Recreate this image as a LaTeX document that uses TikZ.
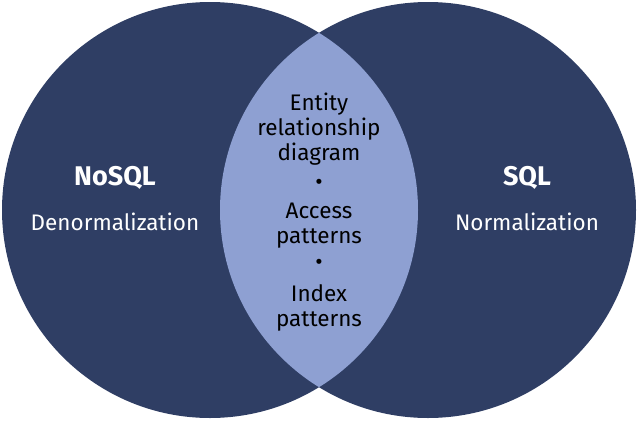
\documentclass[tikz,border=0pt]{standalone}
\usepackage{fontspec}
\setmainfont{Fira Sans}
\usepackage{tikz}
\usepackage{xcolor}
\definecolor{Venn-A}{RGB}{47, 62, 100}
\definecolor{Venn-B}{RGB}{142, 160, 210}

\begin{document}
\begin{tikzpicture}[x=1pt, y=-1pt, font=\fontsize{22.5}{25}\selectfont]

    \useasboundingbox (0,0) rectangle (640,421);

    \node[circle, fill=Venn-A, minimum size=416pt, inner sep=0pt] (nosqlcircle) at (210,210) {};
    \node[circle, fill=Venn-A, minimum size=416pt, inner sep=0pt] (sqlcircle) at (428,210) {};

    \begin{scope}
	\clip (210,210) circle (208);
	\fill[Venn-B] (428,210) circle (208);
    \end{scope}

    \node[text=white, align=center, font=\fontsize{27}{30}\selectfont\bfseries] (nosql) at (115,178) {NoSQL};
    \node[text=white, align=center] (denorm) at (115,222) {Denormalization};

    \node[text=white, align=center, font=\fontsize{27}{30}\selectfont\bfseries] (sql) at (527,178) {SQL};
    \node[text=white, align=center] (norm) at (527,222) {Normalization};

    \node[align=center] (erd) at (319,129) {Entity\\relationship\\diagram};
    \node[align=center] (dota) at (319,184) {\textbullet};
    \node[align=center] (access) at (319,226) {Access\\patterns};
    \node[align=center] (dotb) at (319,264) {\textbullet};
    \node[align=center] (index) at (319,308) {Index\\patterns};

\end{tikzpicture}
\end{document}
